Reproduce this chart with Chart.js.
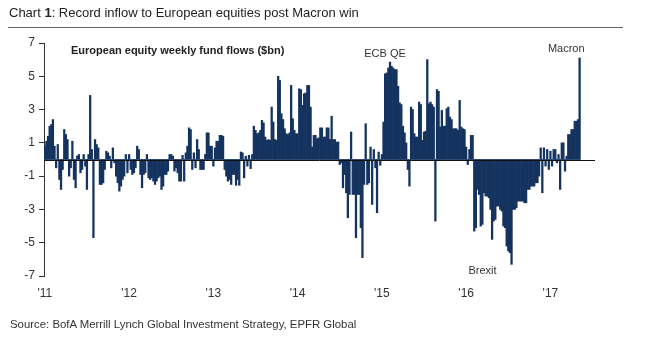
<!DOCTYPE html>
<html>

<head>
	<meta charset="utf-8">
	<title>Record inflow to European equities</title>
	<script src="https://cdn.jsdelivr.net/npm/chart.js@4/dist/chart.umd.min.js"></script>
	<style>
		body { margin: 0; background: #fff; font-family: "Liberation Sans Narrow", "Arial Narrow", "Liberation Sans", Arial, sans-serif; }
		#wrap { position: relative; width: 663px; height: 359px; }
		#wrap canvas { position: absolute; left: 0; top: 0; }
		.title { position: absolute; left: 9px; top: 5px; font-size: 13px; color: #222; white-space: nowrap; }
		.rule { position: absolute; left: 8px; top: 27px; width: 615px; border-top: 1px solid #666; }
		.source { position: absolute; left: 10px; top: 318px; font-size: 11.4px; color: #333; white-space: nowrap; }
	</style>
</head>

<body>
	<div id="wrap">
		<canvas id="flowChart" width="663" height="359"></canvas>
		<div class="title">Chart <b>1</b>: Record inflow to European equities post Macron win</div>
		<div class="rule"></div>
		<div class="source">Source: BofA Merrill Lynch Global Investment Strategy, EPFR Global</div>
	</div>

	<script>
		// weekly flows, $bn
		const flows2011 = [0.8, 1.1, 1.4, 2.0, 2.1, 2.4, 0.8, -0.5, 0.9, -1.2, -1.8, -0.6, 1.8, 1.5, 1.2, -1.0, -0.5, 1.1, -1.2, -1.7, 0.2, 0.3, -0.8, -0.6, 0.3, -0.4, -1.8, 0.3, 3.85, 0.6, -4.7, 1.2, 0.9, 0.7, -1.5, -1.5, -1.4, -0.6, 0.5, 0.4, 0.2, -0.5, 0.7, -0.2, -1.0, -1.4, -1.9, -1.6, -1.2, -1.0, 0.3, -0.8];
		const flows2012 = [0.3, -0.6, -0.9, -0.8, -0.5, 0.8, 0.6, -0.9, -1.7, -0.9, -0.8, 0.3, -1.1, -1.2, -1.1, -1.3, -1.5, -1.3, -1.1, -1.0, -1.8, -1.6, -0.9, -0.9, -0.7, 0.3, 0.3, 0.2, -0.7, -0.5, -0.8, -1.3, -1.3, 0.25, -1.3, 0.4, 0.8, 1.9, 1.8, -0.6, 0.4, -0.5, 1.2, 0.6, -0.6, -0.6, -0.6, 0.3, 1.6, 1.6, 0.8, 0.8];
		const flows2013 = [-0.4, 0.7, 1.1, 1.1, 1.45, 1.45, 1.4, -0.6, -1.0, -1.3, -1.2, -1.5, -0.9, -0.9, -1.55, -1.2, -1.55, 0.45, 0.4, -1.1, 0.2, -0.4, 0.25, -0.55, 0.3, 2.0, 1.75, 1.55, 1.6, 1.75, 2.35, 2.2, 1.35, 1.15, 1.2, 1.15, 3.15, 2.25, 1.2, 1.15, 5.0, 4.75, 2.75, 2.4, 1.85, 1.55, 1.5, 1.6, 4.45, 2.45, 1.75, 1.55];
		const flows2014 = [1.55, 4.25, 4.2, 3.25, 3.95, 4.0, 4.45, 4.45, 3.15, 0.75, 1.45, 1.45, 1.25, 1.3, 1.9, 1.9, 1.35, 1.35, 1.9, 1.9, 1.2, 2.6, 1.2, 1.2, 1.05, 1.05, -0.3, -0.2, -1.7, -0.9, -2.0, -3.5, -2.1, 1.65, -2.1, -2.1, -4.7, -2.1, -2.1, -4.1, -5.9, -1.5, 2.15, -1.5, -1.4, 0.75, -2.7, 0.6, -0.5, -3.2, 0.45, -0.35];
		const flows2015 = [0.3, 2.25, 5.15, 5.2, 5.5, 5.85, 5.6, 5.5, 5.4, 5.4, 4.4, 3.4, 3.3, 2.0, 1.6, 1.0, -0.6, -1.6, 3.15, 3.0, 1.55, 1.35, 1.35, 3.45, 3.3, 1.15, 1.65, 1.7, 6.0, 3.35, 3.45, 3.3, 3.15, -3.7, 4.2, 4.1, 1.95, 2.95, 2.0, 2.0, 3.05, 3.15, 2.55, 2.4, 1.85, 1.85, 1.85, 1.75, 3.55, 1.95, 1.85, 1.8];
		const flows2016 = [0.75, -0.3, 0.6, 1.45, 1.45, -4.3, -4.1, -1.8, -2.1, -4.0, -3.9, -2.0, -2.2, -2.2, -2.3, -3.0, -4.8, -3.7, -3.6, -2.8, -2.8, -3.0, -3.1, -4.0, -4.1, -5.2, -5.5, -5.6, -6.3, -3.0, -3.0, -2.9, -2.5, -2.5, -2.5, -2.5, -2.6, -2.6, -1.8, -1.8, -1.6, -1.6, -1.6, -1.4, -1.4, -1.0, 0.7, -2.0, 0.7, -0.4, 0.6, -0.6];
		const flows2017 = [0.5, -0.4, 0.6, 0.6, -0.2, 0.3, -1.8, 1.0, 1.0, -0.7, 0.2, 1.5, 1.5, 1.8, 1.8, 2.3, 2.3, 2.4, 6.1];

		const yearLabels = ["'11", "'12", "'13", "'14", "'15", "'16", "'17"];
		const yTicks = [7, 5, 3, 1, -1, -3, -5, -7];
		const emptyWeeks = 9; // axis runs on a bit past the last bar

		const years = [flows2011, flows2012, flows2013, flows2014, flows2015, flows2016, flows2017];
		var labels = [];
		var flows = [];
		years.forEach(function (arr, k) {
			arr.forEach(function (v, i) {
				labels.push(i == 0 ? yearLabels[k] : '');
				flows.push(v);
			});
		});
		for (let i = 0; i < emptyWeeks; i++) {
			labels.push('');
			flows.push(null);
		}

		// where the notes sit
		var off = 0;
		var startOf = [];
		years.forEach(function (arr) { startOf.push(off); off += arr.length; });
		const ecbIdx = startOf[4] + flows2015.indexOf(Math.max.apply(null, flows2015.slice(0, 15)));
		const brexitIdx = startOf[5] + flows2016.indexOf(Math.min.apply(null, flows2016));
		const macronIdx = startOf[6] + flows2017.length - 1;

		const textFont = '"Liberation Sans Narrow", "Arial Narrow", "Liberation Sans", Arial, sans-serif';
		const navy = '#15335f';

		const notes = {
			id: 'notes',
			afterDatasetsDraw(chart) {
				const ctx = chart.ctx;
				const area = chart.chartArea;
				const y = chart.scales.y;
				const bars = chart.getDatasetMeta(0).data;
				const y0 = y.getPixelForValue(0);

				// zero line on top of the bars
				ctx.save();
				ctx.strokeStyle = '#111';
				ctx.lineWidth = 1;
				ctx.beginPath();
				ctx.moveTo(area.left, Math.round(y0) + 0.5);
				ctx.lineTo(area.right, Math.round(y0) + 0.5);
				ctx.stroke();

				ctx.fillStyle = '#222';
				ctx.font = 'bold 11px ' + textFont;
				ctx.textAlign = 'left';
				ctx.textBaseline = 'middle';
				ctx.fillText('European equity weekly fund flows ($bn)', area.left + 27, area.top + 8);

				ctx.font = '11px ' + textFont;
				ctx.fillStyle = '#333';
				ctx.textBaseline = 'bottom';
				ctx.textAlign = 'center';
				ctx.fillText('ECB QE', bars[ecbIdx].x - 5, bars[ecbIdx].y - 3);
				ctx.textAlign = 'right';
				ctx.fillText('Macron', bars[macronIdx].x + 5, bars[macronIdx].y - 4);
				ctx.textBaseline = 'top';
				ctx.fillText('Brexit', bars[brexitIdx].x - 15, bars[brexitIdx].y + 1);
				ctx.restore();
			}
		};

		const chart = new Chart(document.getElementById('flowChart'), {
			type: 'bar',
			data: {
				labels: labels,
				datasets: [{
					data: flows,
					backgroundColor: navy,
					borderWidth: 0,
					barPercentage: 1,
					categoryPercentage: 1
				}]
			},
			options: {
				responsive: false,
				animation: false,
				layout: { padding: { left: 0, right: 68, top: 43, bottom: 59 } },
				plugins: { legend: { display: false }, tooltip: { enabled: false } },
				scales: {
					x: {
						grid: { display: false, drawTicks: false },
						border: { display: false },
						ticks: {
							autoSkip: false, maxRotation: 0, padding: 10,
							color: '#333', font: { family: textFont, size: 12 }
						},
						afterFit: function (s) { s.height = 24; }
					},
					y: {
						min: -7, max: 7,
						afterBuildTicks: function (s) { s.ticks = yTicks.map(function (v) { return { value: v }; }); },
						grid: { display: true, drawOnChartArea: false, drawTicks: true, tickLength: 5, color: '#333' },
						border: { display: true, color: '#333', width: 1 },
						ticks: { padding: 4, color: '#333', font: { family: textFont, size: 12 } },
						afterFit: function (s) { s.width = 44; }
					}
				}
			},
			plugins: [notes]
		});
	</script>
</body>

</html>
